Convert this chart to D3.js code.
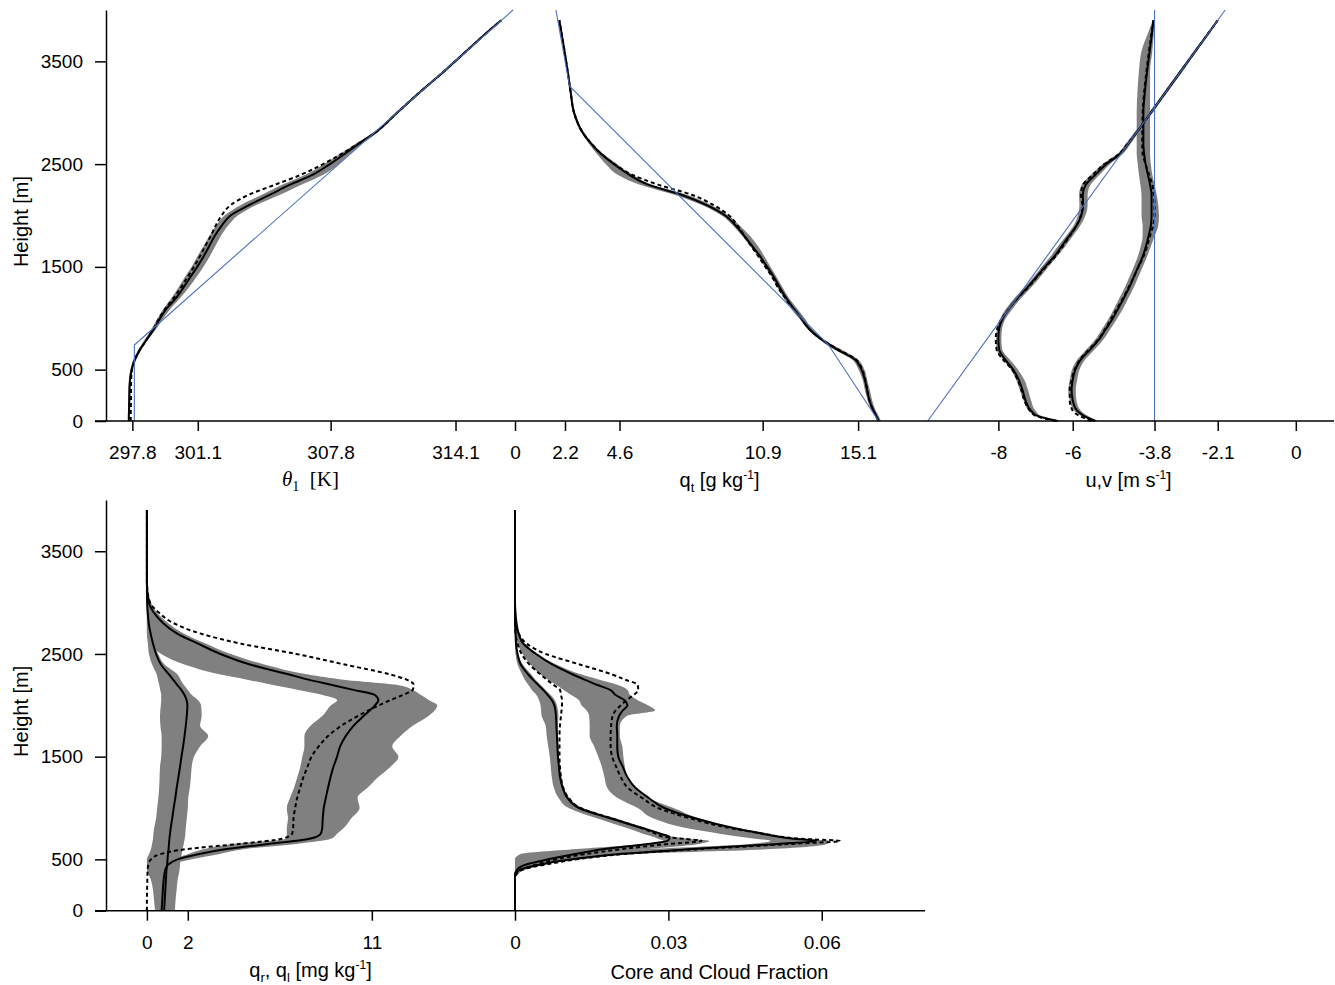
<!DOCTYPE html>
<html><head><meta charset="utf-8">
<script src="https://cdn.jsdelivr.net/npm/d3@7"></script>
<style>
body{margin:0;background:#fff}
svg text{font-family:"Liberation Sans",Arial,Helvetica,sans-serif;fill:#000}
</style>
</head><body>
<svg id="c" width="1335" height="985"></svg>
<script>
// ---------------- DATA ----------------
const yTicks = [0, 500, 1500, 2500, 3500];
const thetaTicks = [297.8, 301.1, 307.8, 314.1];
const qtTicks = [0, 2.2, 4.6, 10.9, 15.1];
const uvTicks = [-8, -6, -3.8, -2.1, 0];
const qlTicks = [0, 2, 11];
const cfTicks = [0, 0.03, 0.06];

// top row heights [m]
const zTop = [0,50,100,200,300,400,500,600,700,800,900,1000,1100,1200,1300,1400,1500,1600,1700,1800,1900,2000,2100,2200,2300,2400,2500,2600,2700,2800,3000,3200,3400,3600,3800,3900];

const thetaSolid = [297.62,297.62,297.63,297.64,297.65,297.68,297.76,297.93,298.2,298.55,298.9,299.2,299.55,300.02,300.38,300.72,301.07,301.39,301.67,301.95,302.3,302.75,303.68,304.72,305.75,306.93,307.76,308.51,309.23,310.0,311.15,312.3,313.5,314.65,315.8,316.4];
const thetaDash  = [297.72,297.72,297.72,297.73,297.73,297.74,297.78,297.93,298.2,298.55,298.88,299.15,299.48,299.9,300.25,300.58,300.9,301.2,301.47,301.75,302.0,302.3,302.75,303.65,305.0,306.35,307.42,308.35,309.2,310.0,311.15,312.3,313.5,314.65,315.8,316.4];
const thetaLo    = [297.58,297.58,297.59,297.6,297.61,297.63,297.7,297.86,298.12,298.45,298.78,299.07,299.4,299.78,300.12,300.44,300.78,301.08,301.38,301.68,302.02,302.45,303.25,304.3,305.35,306.55,307.45,308.28,309.08,309.9,311.08,312.23,313.43,314.58,315.74,316.35];
const thetaHi    = [297.68,297.68,297.69,297.7,297.71,297.74,297.83,298.0,298.28,298.62,299.02,299.36,299.75,300.22,300.65,301.02,301.38,301.7,301.98,302.26,302.62,303.12,304.02,305.22,306.32,307.45,308.2,308.78,309.42,310.12,311.22,312.37,313.57,314.72,315.86,316.45];
const thetaInitZ = [0, 740, 4000];
const thetaInit  = [297.9, 297.9, 317.0];

const qtSolid = [16.0,15.9,15.78,15.6,15.5,15.4,15.25,14.95,14.15,13.45,12.93,12.6,12.25,11.93,11.65,11.4,11.1,10.8,10.45,10.1,9.72,9.25,8.45,7.35,5.85,5.0,4.35,3.78,3.35,3.0,2.6,2.45,2.32,2.18,2.03,1.95];
const qtDash  = [16.0,15.9,15.78,15.6,15.5,15.42,15.28,15.0,14.2,13.45,12.93,12.6,12.22,11.88,11.57,11.32,11.02,10.72,10.4,10.1,9.8,9.42,8.75,7.8,6.3,5.12,4.38,3.8,3.36,3.0,2.6,2.45,2.32,2.18,2.03,1.95];
const qtLo    = [15.92,15.82,15.7,15.52,15.4,15.3,15.12,14.82,14.0,13.35,12.85,12.5,12.12,11.82,11.55,11.3,11.0,10.7,10.35,10.0,9.6,9.1,8.25,7.05,5.5,4.5,4.0,3.6,3.25,2.93,2.55,2.41,2.29,2.16,2.01,1.94];
const qtHi    = [16.1,16.0,15.88,15.72,15.62,15.5,15.38,15.08,14.32,13.55,13.05,12.75,12.4,12.05,11.78,11.52,11.25,10.98,10.7,10.35,9.9,9.4,8.65,7.6,6.05,5.15,4.5,3.88,3.42,3.06,2.65,2.49,2.35,2.2,2.05,1.96];
const qtInitZ = [0, 740, 3260, 4000];
const qtInit  = [16.0, 13.8, 2.4, 1.8];

const uSolid = [-6.4,-6.95,-7.12,-7.27,-7.35,-7.45,-7.6,-7.82,-7.98,-8.0,-7.98,-7.88,-7.7,-7.48,-7.22,-6.98,-6.75,-6.5,-6.3,-6.1,-5.9,-5.77,-5.72,-5.73,-5.65,-5.38,-5.1,-4.72,-4.5,-4.3,-3.9,-3.5,-3.1,-2.7,-2.3,-2.1];
const uDash  = [-6.45,-7.0,-7.15,-7.3,-7.38,-7.48,-7.63,-7.88,-8.05,-8.07,-8.03,-7.9,-7.7,-7.47,-7.2,-6.96,-6.72,-6.47,-6.27,-6.08,-5.9,-5.78,-5.74,-5.78,-5.72,-5.45,-5.15,-4.75,-4.52,-4.3,-3.9,-3.5,-3.1,-2.7,-2.3,-2.1];
const uLo    = [-6.5,-7.0,-7.18,-7.32,-7.42,-7.52,-7.66,-7.88,-8.05,-8.06,-8.04,-7.95,-7.78,-7.56,-7.3,-7.06,-6.84,-6.6,-6.4,-6.18,-5.98,-5.86,-5.82,-5.83,-5.76,-5.5,-5.2,-4.8,-4.57,-4.36,-3.95,-3.55,-3.15,-2.74,-2.33,-2.12];
const uHi    = [-6.3,-6.85,-7.0,-7.12,-7.2,-7.3,-7.47,-7.7,-7.9,-7.92,-7.9,-7.8,-7.6,-7.38,-7.12,-6.88,-6.66,-6.42,-6.2,-6.0,-5.8,-5.66,-5.6,-5.6,-5.52,-5.27,-5.0,-4.65,-4.44,-4.25,-3.85,-3.45,-3.05,-2.66,-2.27,-2.08];
const vSolid = [-5.4,-5.7,-5.88,-6.0,-6.03,-6.0,-5.93,-5.78,-5.52,-5.28,-5.1,-4.92,-4.77,-4.62,-4.48,-4.36,-4.24,-4.12,-4.03,-3.96,-3.9,-3.88,-3.88,-3.88,-3.92,-3.98,-4.04,-4.08,-4.1,-4.1,-4.1,-4.06,-4.0,-3.93,-3.86,-3.83];
const vDash  = [-5.5,-5.82,-6.0,-6.08,-6.08,-6.03,-5.95,-5.8,-5.55,-5.3,-5.12,-4.96,-4.8,-4.64,-4.5,-4.36,-4.23,-4.1,-4.0,-3.92,-3.84,-3.8,-3.8,-3.82,-3.86,-3.95,-4.04,-4.12,-4.13,-4.13,-4.12,-4.08,-4.02,-3.95,-3.87,-3.83];
const vLo    = [-5.5,-5.78,-5.96,-6.08,-6.12,-6.08,-6.02,-5.87,-5.62,-5.38,-5.2,-5.03,-4.88,-4.74,-4.6,-4.48,-4.36,-4.25,-4.17,-4.12,-4.12,-4.15,-4.15,-4.15,-4.18,-4.22,-4.25,-4.28,-4.28,-4.28,-4.28,-4.26,-4.22,-4.15,-3.95,-3.85];
const vHi    = [-5.32,-5.6,-5.78,-5.9,-5.92,-5.88,-5.82,-5.66,-5.4,-5.16,-4.98,-4.8,-4.64,-4.5,-4.36,-4.24,-4.12,-4.0,-3.9,-3.8,-3.7,-3.68,-3.7,-3.74,-3.8,-3.86,-3.9,-3.92,-3.92,-3.92,-3.92,-3.92,-3.92,-3.86,-3.82,-3.82];
const uInitZ = [0, 4000];
const uInit  = [-9.9, -1.9];
const vInitZ = [0, 4000];
const vInit  = [-3.8, -3.8];

// bottom row heights [m]
const zBot = [0,100,200,300,400,450,500,550,600,650,700,750,800,900,1000,1100,1200,1300,1400,1500,1600,1700,1800,1900,2000,2050,2100,2150,2200,2250,2300,2400,2500,2600,2700,2800,2900,3000,3200,3500,3900];

const qlSolid = [0.72,0.75,0.78,0.82,0.9,1.05,1.5,2.5,3.9,5.95,7.95,8.5,8.57,8.6,8.65,8.75,8.86,8.98,9.12,9.3,9.45,9.72,10.1,10.62,11.15,11.32,11.15,10.1,9.0,7.9,6.95,5.0,3.6,2.5,1.46,0.8,0.35,0.1,0,0,0];
const qlDash  = [0,0,0.01,0.02,0.04,0.07,0.2,0.65,1.95,4.5,6.6,7.1,7.15,7.17,7.25,7.35,7.5,7.65,7.85,8.05,8.4,8.85,9.5,10.35,11.35,11.9,12.5,13.0,13.05,12.7,11.9,9.6,7.3,4.6,2.6,1.3,0.6,0.15,0,0,0];
const qlLo    = [0.72,0.75,0.78,0.82,0.88,0.95,1.2,2.0,2.8,4.2,6.8,6.84,6.84,6.9,6.84,7.0,7.2,7.35,7.5,7.6,7.7,7.7,8.0,8.6,9.0,9.3,8.6,7.4,6.1,4.9,3.6,1.8,0.7,0.2,0,0,0,0,0,0,0];
const qlHi    = [0.72,0.75,0.78,0.82,0.92,1.2,2.2,3.5,4.8,7.3,9.0,9.3,9.6,10.0,10.4,10.3,10.8,11.3,11.9,12.3,12.0,12.4,13.0,13.8,14.2,13.8,13.4,13.0,12.2,9.6,7.9,5.7,4.1,2.9,1.8,1.05,0.5,0.2,0,0,0];
const qrSolid = [0.84,0.87,0.9,0.93,0.96,0.99,1.01,1.03,1.06,1.08,1.1,1.13,1.16,1.24,1.31,1.39,1.46,1.54,1.62,1.69,1.77,1.84,1.9,1.95,1.98,1.94,1.84,1.68,1.48,1.28,1.08,0.68,0.45,0.3,0.18,0.09,0.04,0.01,0,0,0];
const qrLo    = [0.4,0.35,0.3,0.2,0,0,0,0.1,0.2,0.25,0.3,0.32,0.35,0.45,0.5,0.56,0.6,0.62,0.64,0.7,0.72,0.72,0.66,0.64,0.68,0.7,0.7,0.65,0.6,0.54,0.48,0.25,0.1,0.05,0,0,0,0,0,0,0];
const qrHi    = [1.37,1.4,1.45,1.5,1.6,1.62,1.65,1.7,1.75,1.8,1.85,1.88,1.9,1.95,2.0,2.02,2.1,2.15,2.19,2.3,2.6,3.0,2.6,2.68,2.65,2.5,2.2,2.0,1.8,1.65,1.5,0.85,0.55,0.35,0.2,0.1,0.05,0.01,0,0,0];

const zCf = [0,300,350,400,450,500,550,600,650,680,700,720,750,800,900,1000,1100,1200,1300,1400,1500,1600,1700,1800,1900,1950,2000,2050,2100,2150,2200,2250,2300,2400,2500,2600,2700,2800,2900,3000,3200,3500,3900];

const coreSolid  = [0,0,0,0.0004,0.0022,0.0065,0.0115,0.0175,0.026,0.0298,0.0302,0.0302,0.0284,0.0252,0.0186,0.0125,0.0102,0.0093,0.0088,0.0086,0.0084,0.0083,0.0082,0.0081,0.008,0.0079,0.0077,0.0072,0.0064,0.0055,0.0045,0.0035,0.0026,0.0011,0.0005,0.0002,0.0001,0,0,0,0,0,0];
const coreDash   = [0,0,0.0002,0.0012,0.0042,0.008,0.0135,0.021,0.03,0.0365,0.033,0.029,0.0275,0.025,0.0188,0.0128,0.0105,0.0094,0.009,0.0088,0.0087,0.0087,0.0087,0.0088,0.009,0.0091,0.0092,0.0092,0.009,0.0088,0.0075,0.0062,0.005,0.0028,0.0013,0.0005,0.0001,0,0,0,0,0,0];
const coreLo     = [0,0,0,0,0,0,0.001,0.012,0.025,0.029,0.028,0.027,0.025,0.0222,0.016,0.0105,0.0085,0.0076,0.0072,0.007,0.0068,0.0065,0.0062,0.006,0.0052,0.0051,0.005,0.0047,0.0042,0.0033,0.0026,0.0019,0.0014,0.0005,0.0001,0,0,0,0,0,0,0,0];
const coreHi     = [0,0,0.0005,0.002,0.006,0.011,0.017,0.026,0.036,0.038,0.034,0.031,0.029,0.026,0.0197,0.0132,0.0106,0.0096,0.0091,0.0088,0.0086,0.0085,0.0084,0.0084,0.0085,0.0084,0.0082,0.0078,0.007,0.006,0.005,0.004,0.0032,0.0015,0.0006,0.0002,0,0,0,0,0,0,0];
const cloudSolid = [0,0,0,0.001,0.005,0.011,0.02,0.0346,0.0514,0.059,0.0545,0.0515,0.0483,0.0432,0.0352,0.0292,0.0261,0.0235,0.022,0.0211,0.0202,0.02,0.02,0.0199,0.0204,0.0211,0.022,0.0214,0.0197,0.0186,0.016,0.0136,0.0113,0.0072,0.0041,0.0016,0.0007,0.0003,0.0001,0,0,0,0];
const cloudDash  = [0,0,0.0002,0.0015,0.006,0.012,0.021,0.036,0.054,0.0636,0.056,0.052,0.0485,0.0425,0.0342,0.028,0.0248,0.022,0.0207,0.0198,0.019,0.0187,0.0187,0.0188,0.0191,0.0197,0.0207,0.0218,0.0232,0.0241,0.024,0.0215,0.019,0.0125,0.006,0.0023,0.0007,0.0001,0,0,0,0,0];
const cloudLo    = [0,0,0,0,0.001,0.005,0.011,0.026,0.046,0.05,0.047,0.044,0.04,0.034,0.027,0.024,0.02,0.018,0.0175,0.017,0.0163,0.0155,0.0146,0.0146,0.0145,0.014,0.013,0.0125,0.011,0.0095,0.008,0.0065,0.005,0.003,0.0015,0.0005,0,0,0,0,0,0,0];
const cloudHi    = [0,0,0.0005,0.002,0.006,0.013,0.022,0.05,0.061,0.0615,0.056,0.053,0.05,0.044,0.036,0.031,0.026,0.0235,0.022,0.0215,0.0212,0.021,0.0205,0.0205,0.022,0.0274,0.026,0.024,0.0225,0.022,0.02,0.0165,0.013,0.008,0.0045,0.002,0.0008,0.0002,0,0,0,0,0];

// ---------------- DRAWING ----------------
const svg = d3.select("#c");
const GRAY = "#808080", BLUE = "#4a70c2";

const yTop = d3.scaleLinear().domain([0, 4000]).range([421, 10]);
const yBot = d3.scaleLinear().domain([0, 4000]).range([910.7, 499.9]);
const xTheta = d3.scaleLinear().domain([296.47, 317.1]).range([106, 515]);
const xQt = d3.scaleLinear().domain([0, 18]).range([515, 924]);
const xUV = d3.scaleLinear().domain([-10, 1]).range([924, 1333]);
const xQl = d3.scaleLinear().domain([-2, 18]).range([106, 515]);
const xCf = d3.scaleLinear().domain([0, 0.08]).range([515, 924]);

const plot = svg.append("g");

function band(x, y, z, lo, hi) {
  const d = z.map((zz, i) => ({z: zz, lo: lo[i], hi: hi[i]}));
  plot.append("path").datum(d)
    .attr("d", d3.area().y(p => y(p.z)).x0(p => x(p.lo)).x1(p => x(p.hi)).curve(d3.curveMonotoneY))
    .attr("fill", GRAY).attr("stroke", "none");
}
function line(x, y, z, v, kind) {
  const d = z.map((zz, i) => ({z: zz, v: v[i]}));
  const p = plot.append("path").datum(d)
    .attr("d", d3.line().y(q => y(q.z)).x(q => x(q.v)).curve(kind === "blue" ? d3.curveLinear : d3.curveMonotoneY))
    .attr("fill", "none").attr("stroke-linejoin", "round");
  if (kind === "blue") p.attr("stroke", BLUE).attr("stroke-width", 1.1);
  else if (kind === "dash") p.attr("stroke", "#000").attr("stroke-width", 2).attr("stroke-dasharray", "4,3");
  else p.attr("stroke", "#000").attr("stroke-width", 2);
}

// theta
band(xTheta, yTop, zTop, thetaLo, thetaHi);
line(xTheta, yTop, zTop, thetaDash, "dash");
line(xTheta, yTop, zTop, thetaSolid, "solid");
line(xTheta, yTop, thetaInitZ, thetaInit, "blue");
// qt
band(xQt, yTop, zTop, qtLo, qtHi);
line(xQt, yTop, zTop, qtDash, "dash");
line(xQt, yTop, zTop, qtSolid, "solid");
line(xQt, yTop, qtInitZ, qtInit, "blue");
// u, v
band(xUV, yTop, zTop, uLo, uHi);
band(xUV, yTop, zTop, vLo, vHi);
line(xUV, yTop, zTop, uDash, "dash");
line(xUV, yTop, zTop, vDash, "dash");
line(xUV, yTop, zTop, uSolid, "solid");
line(xUV, yTop, zTop, vSolid, "solid");
line(xUV, yTop, uInitZ, uInit, "blue");
line(xUV, yTop, vInitZ, vInit, "blue");
// ql, qr
band(xQl, yBot, zBot, qrLo, qrHi);
band(xQl, yBot, zBot, qlLo, qlHi);
line(xQl, yBot, zBot, qlDash, "dash");
line(xQl, yBot, zBot, qrSolid, "solid");
line(xQl, yBot, zBot, qlSolid, "solid");
// core & cloud fraction
band(xCf, yBot, zCf, coreLo, coreHi);
band(xCf, yBot, zCf, cloudLo, cloudHi);
line(xCf, yBot, zCf, coreDash, "dash");
line(xCf, yBot, zCf, cloudDash, "dash");
line(xCf, yBot, zCf, coreSolid, "solid");
line(xCf, yBot, zCf, cloudSolid, "solid");

// axes
function styleAxis(g) {
  g.selectAll("line").attr("stroke", "#000").attr("stroke-width", 1.5);
  g.selectAll("path.domain").attr("stroke", "#000").attr("stroke-width", 1.5);
  g.selectAll("text").attr("font-size", 19).attr("font-family", '"Liberation Sans", Arial, Helvetica, sans-serif').attr("fill", "#000");
}
function xAxis(x, yPos, ticks) {
  svg.append("g").attr("transform", `translate(0,${yPos})`)
    .call(d3.axisBottom(x).tickValues(ticks).tickFormat(d => String(d)).tickSize(10).tickSizeOuter(0).tickPadding(15))
    .call(g => g.select(".domain").remove())
    .call(styleAxis);
}
function yAxis(y) {
  svg.append("g").attr("transform", "translate(106,0)")
    .call(d3.axisLeft(y).tickValues(yTicks).tickFormat(d => String(d)).tickSize(11).tickSizeOuter(0).tickPadding(12))
    .call(styleAxis);
}
yAxis(yTop); yAxis(yBot);
xAxis(xTheta, yTop(0), thetaTicks);
xAxis(xQt, yTop(0), qtTicks);
xAxis(xUV, yTop(0), uvTicks);
xAxis(xQl, yBot(0), qlTicks);
xAxis(xCf, yBot(0), cfTicks);
svg.append("line").attr("x1", 95).attr("x2", xUV.range()[1] + 1).attr("y1", yTop(0)).attr("y2", yTop(0)).attr("stroke", "#000").attr("stroke-width", 1.5);
svg.append("line").attr("x1", 95).attr("x2", xCf.range()[1] + 1).attr("y1", yBot(0)).attr("y2", yBot(0)).attr("stroke", "#000").attr("stroke-width", 1.5);

// titles
function ylab(cy) {
  svg.append("text").attr("transform", `translate(28,${cy}) rotate(-90)`).attr("text-anchor", "middle").attr("font-size", 20).text("Height [m]");
}
ylab((yTop(0) + yTop(4000)) / 2 + 6);
ylab((yBot(0) + yBot(4000)) / 2 + 6);

function mid(x) { return (x.range()[0] + x.range()[1]) / 2; }
// theta_1 [K]
{
  const t = svg.append("text").attr("x", mid(xTheta)).attr("y", yTop(0) + 65).attr("text-anchor", "middle")
    .attr("font-size", 21).style("font-family", '"Liberation Serif","DejaVu Serif",serif');
  t.append("tspan").attr("font-style", "italic").text("θ");
  t.append("tspan").attr("font-size", 14).attr("dy", 5).text("1");
  t.append("tspan").attr("dy", -5).text("\u00a0\u00a0[K]");
}
function unitTitle(x, y, parts) {
  const t = svg.append("text").attr("x", x).attr("y", y).attr("text-anchor", "middle").attr("font-size", 20);
  parts.forEach(p => {
    const s = t.append("tspan").text(p.t);
    if (p.sub) s.attr("font-size", 13).attr("dy", 5);
    if (p.sup) s.attr("font-size", 12).attr("dy", -8);
    if (p.dy) s.attr("dy", p.dy);
  });
}
unitTitle(mid(xQt), yTop(0) + 66, [{t:"q"},{t:"t",sub:1},{t:" [g kg",dy:-5},{t:"-1",sup:1},{t:"]",dy:8}]);
unitTitle(mid(xUV), yTop(0) + 66, [{t:"u,v [m s"},{t:"-1",sup:1},{t:"]",dy:8}]);
unitTitle(mid(xQl), yBot(0) + 66, [{t:"q"},{t:"r",sub:1},{t:", q",dy:-5},{t:"l",sub:1},{t:" [mg kg",dy:-5},{t:"-1",sup:1},{t:"]",dy:8}]);
svg.append("text").attr("x", mid(xCf)).attr("y", yBot(0) + 68).attr("text-anchor", "middle").attr("font-size", 20).text("Core and Cloud Fraction");
</script>
</body></html>
